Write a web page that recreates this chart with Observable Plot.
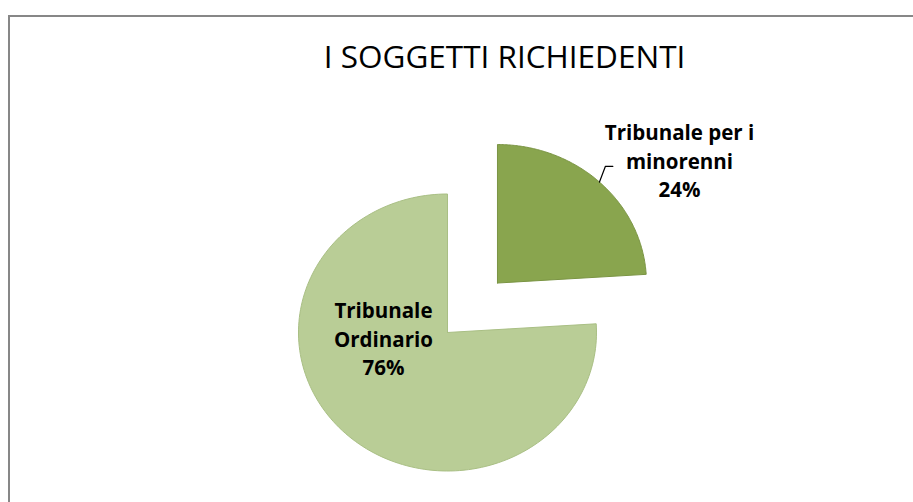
<!DOCTYPE html>
<html>
<head>
<meta charset="utf-8">
<script src="https://cdn.jsdelivr.net/npm/d3@7"></script>
<script src="https://cdn.jsdelivr.net/npm/@observablehq/plot@0.6"></script>
<style>
  html, body { margin: 0; padding: 0; background: #ffffff; }
  #wrap { position: relative; width: 913px; height: 502px; overflow: hidden; }
  #frame { position: absolute; left: 8px; top: 15px; width: 1200px; height: 1200px;
           border-left: 2px solid #878787; border-top: 2px solid #878787; pointer-events: none; }
</style>
</head>
<body>
<div id="wrap"><div id="frame"></div></div>
<script>
// ---- data ----
const title = "I SOGGETTI RICHIEDENTI";
const categories = ["Tribunale per i minorenni", "Tribunale Ordinario"];
const labelText = ["Tribunale per i\nminorenni", "Tribunale\nOrdinario"];
const values = [24, 76];
const explode = [0.49, 0];

// ---- layout / style (not data) ----
const colors = ["#89a54e", "#b9cd96"];
const edges = ["#7a9443", "#a9bf84"];
// label anchor positions in pie-radius units, relative to pie center
const labelPos = [[1.557, 1.25], [-0.43, -0.036]];

const total = d3.sum(values);
const slices = [];
let acc = 0;
values.forEach((v, i) => {
  const a0 = acc / total * 2 * Math.PI;
  acc += v;
  const a1 = acc / total * 2 * Math.PI;
  const mid = (a0 + a1) / 2;
  const cx = explode[i] * Math.sin(mid), cy = explode[i] * Math.cos(mid);
  slices.push({i, a0, a1, mid, cx, cy});
});

const polys = [];
slices.forEach(s => {
  const n = 160;
  polys.push({k: s.i, x: s.cx, y: s.cy});
  for (let j = 0; j <= n; j++) {
    const a = s.a0 + (s.a1 - s.a0) * j / n;
    polys.push({k: s.i, x: s.cx + Math.sin(a), y: s.cy + Math.cos(a)});
  }
  polys.push({k: s.i, x: s.cx, y: s.cy});
});

const labels = slices.map(s => ({
  text: labelText[s.i] + "\n" + Math.round(values[s.i] / total * 100) + "%",
  x: labelPos[s.i][0], y: labelPos[s.i][1]
}));

// leader line for the first (exploded) slice
const s0 = slices[0];
const st = {x: s0.cx + Math.sin(s0.mid), y: s0.cy + Math.cos(s0.mid)};
const elbow = {x: st.x + 0.04, y: labelPos[0][1] - 0.05};
const leader = [st, elbow, {x: elbow.x + 0.05, y: elbow.y}];

const chart = Plot.plot({
  width: 913,
  height: 502,
  margin: 0,
  style: {fontFamily: "Open Sans", background: "transparent"},
  x: {domain: [-1, 1], range: [298, 596], axis: null},
  y: {domain: [-1, 1], range: [470.5, 193.5], axis: null},
  marks: [
    ...slices.map(s => Plot.line(polys.filter(p => p.k === s.i), {
      x: "x", y: "y", fill: colors[s.i], stroke: edges[s.i], strokeWidth: 1, curve: "linear"
    })),
    Plot.line(leader, {x: "x", y: "y", stroke: "#000", strokeWidth: 1.2}),
    Plot.text(labels, {
      x: "x", y: "y", text: "text", fontSize: 20.5, fontWeight: 700,
      lineHeight: 1.4, lineAnchor: "middle", fill: "#000"
    }),
    Plot.text([title], {
      frameAnchor: "top", dx: 47.5, dy: 45, lineAnchor: "top",
      text: d => d, fontSize: 31.5, fontWeight: 500, fill: "#000"
    })
  ]
});
chart.style.position = "absolute";
chart.style.left = "0px";
chart.style.top = "0px";
document.getElementById("wrap").prepend(chart);
</script>
</body>
</html>
